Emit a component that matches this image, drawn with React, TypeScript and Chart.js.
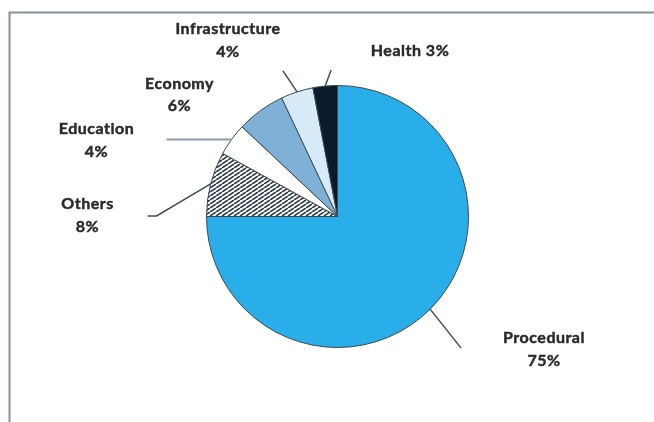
import React, { useEffect, useRef } from "react";
import { Chart, registerables } from "chart.js";

Chart.register(...registerables);

// ---- data ----
const categories = ["Procedural", "Others", "Education", "Economy", "Infrastructure", "Health"];
const shares = [75, 8, 4, 6, 4, 3];

// ---- styling / layout (not data) ----
const sliceColors = ["#2aaeea", "HATCH", "#ffffff", "#7fb0d6", "#d6eaf8", "#0b1b2a"];
// label: dx/dy from pie centre to first baseline (centre aligned), single = one line
const labelLayout = [
  { dx: 206.5, dy: 126.5, single: false },
  { dx: -250, dy: -7.5, single: false },
  { dx: -241, dy: -82.5, single: false },
  { dx: -158, dy: -128, single: false },
  { dx: -109.5, dy: -182.5, single: false },
  { dx: 72.5, dy: -161, single: true },
];
// leader line offsets from the slice's outer-edge midpoint
const leaderLayout: { pts: number[][]; color: string; width: number }[] = [
  { pts: [[31, 39]], color: "#3e4d59", width: 1.5 },
  { pts: [[-54, 32], [-63, 32]], color: "#3e4d59", width: 1.5 },
  { pts: [[-65, 0]], color: "#8d9ba7", width: 2 },
  { pts: [], color: "#3e4d59", width: 1.5 },
  { pts: [[-14, -21]], color: "#3e4d59", width: 1.5 },
  { pts: [[6, -16]], color: "#3e4d59", width: 1.5 },
];

function makeHatch(): CanvasPattern | string {
  const w = 6;
  const h = 4;
  const c = document.createElement("canvas");
  c.width = w;
  c.height = h;
  const g = c.getContext("2d");
  if (!g) return "#888";
  g.fillStyle = "#ffffff";
  g.fillRect(0, 0, w, h);
  g.strokeStyle = "#2f3d48";
  g.lineWidth = 1.7;
  for (const off of [-w, 0, w]) {
    g.beginPath();
    g.moveTo(off, h);
    g.lineTo(off + w, 0);
    g.stroke();
  }
  return g.createPattern(c, "repeat") || "#888";
}

const framePlugin = {
  id: "frame",
  beforeDraw(chart: any) {
    const ctx = chart.ctx;
    ctx.save();
    ctx.fillStyle = "#ffffff";
    ctx.fillRect(0, 0, chart.width, chart.height);
    ctx.strokeStyle = "#82919e";
    ctx.lineWidth = 2;
    ctx.beginPath();
    ctx.moveTo(9.5, chart.height);
    ctx.lineTo(9.5, 12.5);
    ctx.lineTo(chart.width, 12.5);
    ctx.stroke();
    ctx.restore();
  },
};

const labelPlugin = {
  id: "pieLabels",
  afterDatasetsDraw(chart: any) {
    const ctx = chart.ctx;
    const meta = chart.getDatasetMeta(0);
    ctx.save();
    meta.data.forEach((arc: any, i: number) => {
      const p = arc.getProps(["x", "y", "startAngle", "endAngle", "outerRadius"], true);
      const mid = (p.startAngle + p.endAngle) / 2;
      const ex = p.x + Math.cos(mid) * p.outerRadius;
      const ey = p.y + Math.sin(mid) * p.outerRadius;
      const ll = leaderLayout[i];
      if (ll.pts.length) {
        ctx.strokeStyle = ll.color;
        ctx.lineWidth = ll.width;
        ctx.beginPath();
        ctx.moveTo(ex, ey);
        ll.pts.forEach(([dx, dy]) => ctx.lineTo(ex + dx, ey + dy));
        ctx.stroke();
      }
      const lay = labelLayout[i];
      ctx.fillStyle = "#2a2a2a";
      ctx.strokeStyle = "#2a2a2a";
      ctx.lineWidth = 0.45;
      ctx.font = "bold 16px Lato";
      (ctx as any).letterSpacing = "0.5px";
      ctx.textAlign = "center";
      ctx.textBaseline = "alphabetic";
      const name = categories[i];
      const val = `${shares[i]}%`;
      const lx = p.x + lay.dx;
      const ly = p.y + lay.dy;
      const put = (t: string, x: number, y: number) => {
        ctx.fillText(t, x, y);
        ctx.strokeText(t, x, y);
      };
      if (lay.single) {
        put(`${name} ${val}`, lx, ly);
      } else {
        put(name, lx, ly);
        put(val, lx, ly + 22.5);
      }
    });
    ctx.restore();
  },
};

export default function App() {
  const ref = useRef<HTMLCanvasElement | null>(null);
  useEffect(() => {
    if (!ref.current) return;
    const hatch = makeHatch();
    const chart = new Chart(ref.current, {
      type: "pie",
      data: {
        labels: categories,
        datasets: [
          {
            data: shares,
            backgroundColor: sliceColors.map((c) => (c === "HATCH" ? hatch : c)) as any,
            borderColor: "#3c4955",
            borderWidth: 1,
          },
        ],
      },
      options: {
        animation: false,
        responsive: true,
        maintainAspectRatio: false,
        layout: { padding: { left: 206, right: 185, top: 85, bottom: 74 } },
        plugins: {
          legend: { display: false },
          tooltip: { enabled: false },
        },
      },
      plugins: [framePlugin, labelPlugin],
    });
    return () => chart.destroy();
  }, []);
  return (
    <div style={{ position: "fixed", left: 0, top: 0, width: 654, height: 422, background: "#fff" }}>
      <canvas ref={ref} />
    </div>
  );
}
